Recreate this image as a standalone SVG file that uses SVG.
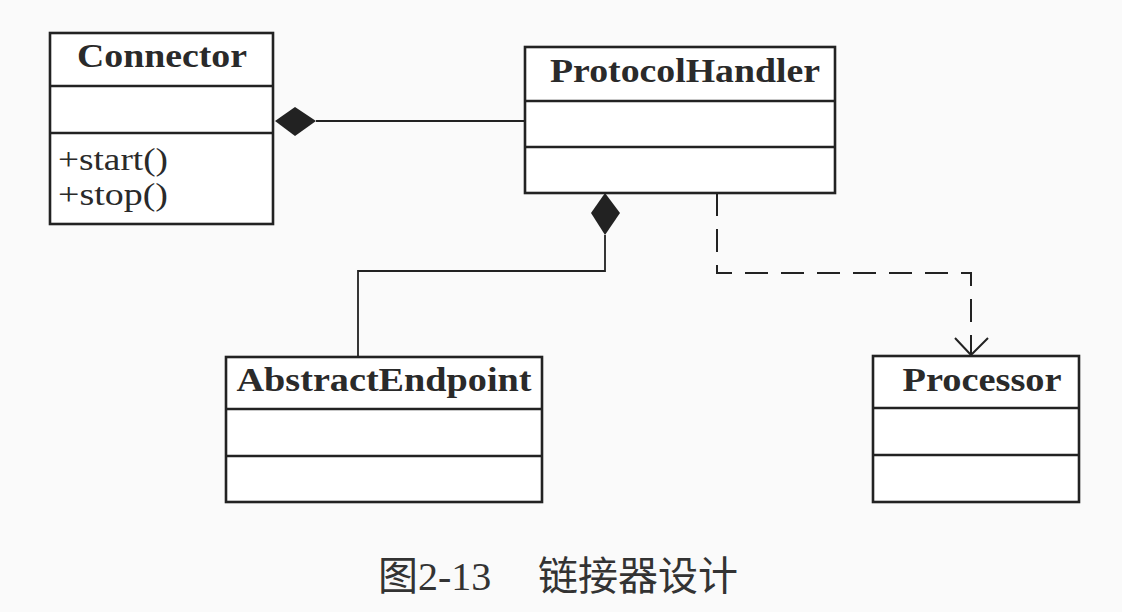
<svg xmlns="http://www.w3.org/2000/svg" width="1122" height="612" viewBox="0 0 1122 612">
  <style>
    .box { fill: #ffffff; stroke: #222; stroke-width: 2.6; }
    .div { stroke: #222; stroke-width: 2.6; }
    .title { font-family: "Liberation Serif", "Times New Roman", serif; font-weight: bold; font-size: 33px; fill: #2a2a2a; text-anchor: middle; }
    .member { font-family: "Liberation Serif", "Times New Roman", serif; font-size: 31px; fill: #2a2a2a; }
    .link { fill: none; stroke: #222; stroke-width: 1.8; }
    .dash { fill: none; stroke: #222; stroke-width: 2; stroke-dasharray: 23 13; }
    .caption { font-family: "Liberation Serif", "Noto Sans CJK SC", serif; font-size: 40px; fill: #333; }
  </style>
  <rect x="0" y="0" width="1122" height="612" fill="#fafafa"/>

  <g id="connectors">
    <line class="link" x1="316" y1="121" x2="525" y2="121"/>
    <polygon points="275,121 295,107 316,121 295,136" fill="#222"/>
    <polyline class="link" points="605,235 605,271 358,271 358,357"/>
    <polygon points="605,193 620,213 605,235 591,213" fill="#222"/>
    <polyline class="dash" points="717,193 717,273 971,273 971,355"/>
    <polyline fill="none" stroke="#222" stroke-width="2" points="955,338 971,355 988,338"/>
  </g>

  <g id="Connector">
    <rect class="box" x="50" y="33" width="223" height="191"/>
    <line class="div" x1="50" y1="86" x2="273" y2="86"/>
    <line class="div" x1="50" y1="133" x2="273" y2="133"/>
    <text class="title" x="162" y="67" textLength="170" lengthAdjust="spacingAndGlyphs">Connector</text>
    <text class="member" x="58" y="170" textLength="110" lengthAdjust="spacingAndGlyphs">+start()</text>
    <text class="member" x="58" y="205" textLength="110" lengthAdjust="spacingAndGlyphs">+stop()</text>
  </g>

  <g id="ProtocolHandler">
    <rect class="box" x="525" y="47" width="310" height="146"/>
    <line class="div" x1="525" y1="101" x2="835" y2="101"/>
    <line class="div" x1="525" y1="147" x2="835" y2="147"/>
    <text class="title" x="685" y="82" textLength="270" lengthAdjust="spacingAndGlyphs">ProtocolHandler</text>
  </g>

  <g id="AbstractEndpoint">
    <rect class="box" x="226" y="357" width="316" height="145"/>
    <line class="div" x1="226" y1="409" x2="542" y2="409"/>
    <line class="div" x1="226" y1="456" x2="542" y2="456"/>
    <text class="title" x="384" y="391" textLength="295" lengthAdjust="spacingAndGlyphs">AbstractEndpoint</text>
  </g>

  <g id="Processor">
    <rect class="box" x="873" y="356" width="206" height="146"/>
    <line class="div" x1="873" y1="408" x2="1079" y2="408"/>
    <line class="div" x1="873" y1="455" x2="1079" y2="455"/>
    <text class="title" x="982" y="391" textLength="159" lengthAdjust="spacingAndGlyphs">Processor</text>
  </g>

  <g id="caption">
    <text class="caption" x="378" y="590">图2-13<tspan x="538">链接器设计</tspan></text>
  </g>
</svg>
